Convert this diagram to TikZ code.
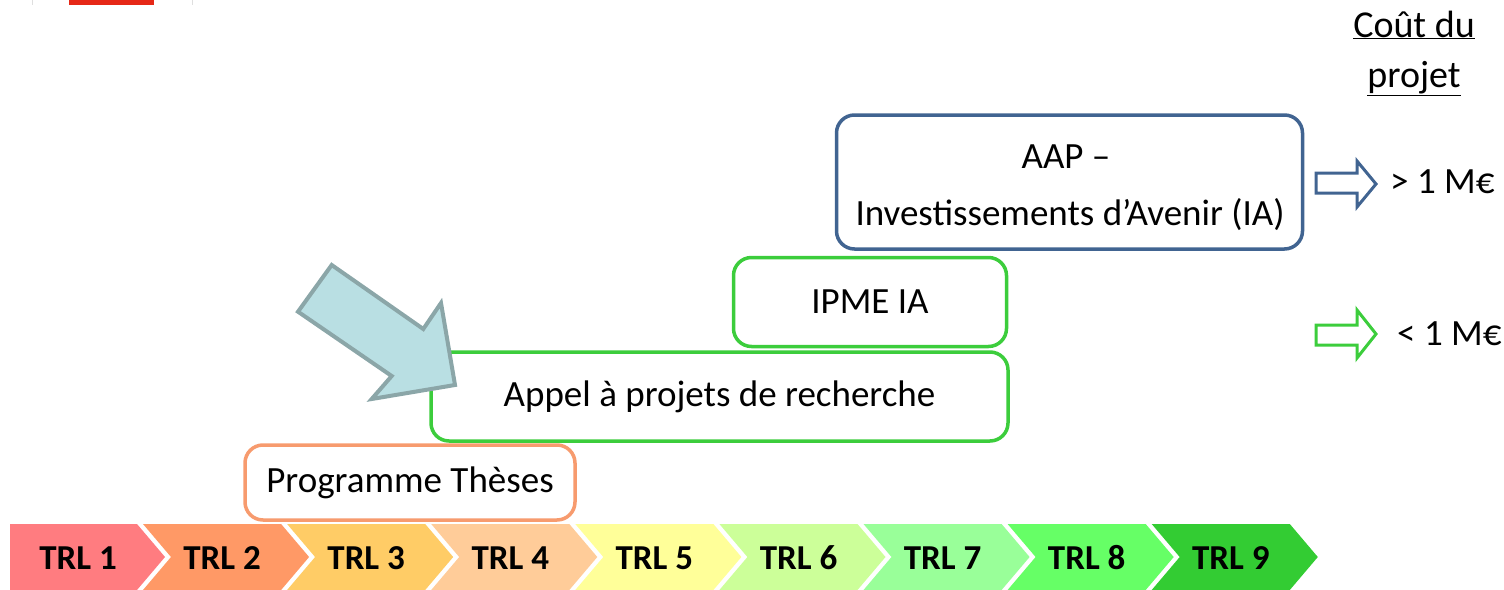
\documentclass[tikz,border=0pt]{standalone}
\usepackage{fontspec}
\setmainfont{Carlito}
\definecolor{aapblue}{RGB}{65,100,145}
\definecolor{boxgreen}{RGB}{60,205,60}
\definecolor{boxorange}{RGB}{247,155,110}
\definecolor{arrowfill}{RGB}{185,223,227}
\definecolor{arrowdraw}{RGB}{139,166,168}
\definecolor{logored}{RGB}{230,40,23}
\definecolor{trla}{RGB}{255,124,128}
\definecolor{trlb}{RGB}{255,153,102}
\definecolor{trlc}{RGB}{255,204,102}
\definecolor{trld}{RGB}{255,204,153}
\definecolor{trle}{RGB}{255,255,153}
\definecolor{trlf}{RGB}{204,255,153}
\definecolor{trlg}{RGB}{153,255,153}
\definecolor{trlh}{RGB}{102,255,102}
\definecolor{trli}{RGB}{51,204,51}
\begin{document}
\begin{tikzpicture}[x=1pt,y=-1pt,
  fundbox/.style={draw, line width=3.5pt, rounded corners=18pt, fill=white, inner sep=0pt,
    font=\fontsize{37}{40}\selectfont},
  trllabel/.style={font=\bfseries\fontsize{35}{40}\selectfont, inner sep=0pt},
  costlabel/.style={font=\fontsize{37}{40}\selectfont, inner sep=0pt, anchor=base west},
  headlabel/.style={font=\fontsize{38}{40}\selectfont, inner sep=0pt, anchor=base},
  blockarrow/.style={line width=3pt, fill=white, line join=miter}]
\useasboundingbox (0,0) rectangle (1504,589);
% cropped logo at the top
\fill[logored] (69,0) rectangle (154,4.7);
\draw[gray!25, line width=1pt] (32,0) -- (32,5) (192,0) -- (192,5);

% TRL chevrons
\foreach \i/\c in {1/trla,2/trlb,3/trlc,4/trld,5/trle,6/trlf,7/trlg,8/trlh,9/trli}{
  \pgfmathsetmacro\T{165+144.1*(\i-1)}
  \pgfmathsetmacro\L{ifthenelse(\i==1,10,\T-144.1-22)}
  \pgfmathsetmacro\N{ifthenelse(\i==1,10,\L+28)}
  \fill[\c] (\L,524) -- (\T-28,524) -- (\T,557) -- (\T-28,590) -- (\L,590) -- (\N,557) -- cycle;
  \node[trllabel] (trl\i) at (\T-87,558) {TRL \i};
}

% funding boxes
\node[fundbox, draw=boxorange, minimum width=330pt, minimum height=75pt] (theses) at (410,482.5) {Programme Thèses};
\node[fundbox, draw=boxgreen, minimum width=577pt, minimum height=89pt] (appel) at (719.5,396.5) {Appel à projets de recherche};
\node[fundbox, draw=boxgreen, minimum width=273pt, minimum height=89pt] (ipme) at (870,302) {IPME IA};
\node[fundbox, draw=aapblue, minimum width=466pt, minimum height=134pt] (aap) at (1069.5,182) {};
\node[font=\fontsize{37}{40}\selectfont, inner sep=0pt, anchor=base] (aapa) at (1066,168) {AAP –};
\node[font=\fontsize{37}{40}\selectfont, inner sep=0pt, anchor=base] (aapb) at (1070,225) {Investissements d’Avenir (IA)};

% big pointing arrow
\draw[arrowdraw, fill=arrowfill, line width=4pt, line join=miter]
  (331.7,265) -- (298,311.7) -- (391.7,376) -- (371.7,399) -- (455,385) -- (441,303) -- (423.3,329) -- cycle;

% cost column
\node[headlabel] (costa) at (1414,37) {\underline{Coût du}};
\node[headlabel] (costb) at (1414,87) {\underline{projet}};
\draw[blockarrow, draw=aapblue] (1316,173) -- (1357,173) -- (1357,161) -- (1376,184) -- (1357,207) -- (1357,193) -- (1316,193) -- cycle;
\node[costlabel] (big) at (1390,193) {> 1 M€};
\draw[blockarrow, draw=boxgreen] (1316,325) -- (1357,325) -- (1357,310) -- (1376,334) -- (1357,358) -- (1357,345) -- (1316,345) -- cycle;
\node[costlabel] (small) at (1397,345) {< 1 M€};
\end{tikzpicture}
\end{document}
